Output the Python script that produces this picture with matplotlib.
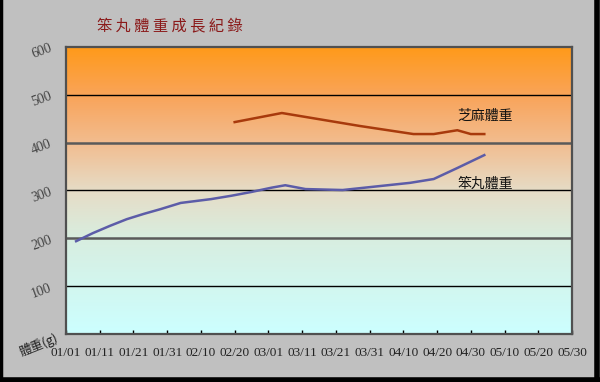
import numpy as np
import pandas as pd
import matplotlib
matplotlib.use("Agg")
import matplotlib.pyplot as plt
import matplotlib.dates as mdates
from matplotlib.colors import LinearSegmentedColormap

# weight records (g)
ben_dates = ["2008-01-04", "2008-01-09", "2008-01-14", "2008-01-19", "2008-01-24",
             "2008-01-29", "2008-02-04", "2008-02-13", "2008-02-19", "2008-02-25",
             "2008-03-02", "2008-03-06", "2008-03-12", "2008-03-23", "2008-03-31",
             "2008-04-12", "2008-04-19", "2008-04-26", "2008-05-04"]
ben_weight = [194, 211, 226, 240, 251, 261, 274, 282, 289, 297,
              306, 311, 303, 301, 307, 316, 324, 347, 374]

zhi_dates = ["2008-02-20", "2008-03-05", "2008-03-28", "2008-04-13", "2008-04-19",
             "2008-04-26", "2008-04-30", "2008-05-04"]
zhi_weight = [443, 462, 435, 418, 418, 426, 418, 418]

tick_dates = pd.date_range("2008-01-01", "2008-05-30", freq="10D")
y_ticks = [100, 200, 300, 400, 500, 600]

cjk = ["Noto Sans CJK TC", "DejaVu Sans"]
serif = "Liberation Serif"

fig = plt.figure(figsize=(6, 3.82), dpi=100, facecolor="#c0c0c0")
ax = fig.add_axes([66/600, 48/382, 506/600, 287/382])

x0 = mdates.date2num(pd.Timestamp("2008-01-01"))
x1 = mdates.date2num(pd.Timestamp("2008-05-30"))

# background gradient, orange on top to pale cyan at the bottom
cmap = LinearSegmentedColormap.from_list("bg", [
    (0.0, "#ccffff"), (0.33, "#d8eee0"), (0.5, "#e6dcc6"),
    (0.67, "#f2bc8e"), (0.83, "#f9a45a"), (1.0, "#ff9a1a")])
grad = np.linspace(0, 1, 256).reshape(-1, 1)
ax.imshow(grad, aspect="auto", cmap=cmap, origin="lower",
          extent=[x0, x1, 0, 600], zorder=0)

for v in [100, 300, 500]:
    ax.axhline(v, color="black", lw=1, zorder=1)
for v in [200, 400]:
    ax.axhline(v, color="#5a5a5a", lw=1.8, zorder=1)

ax.plot(pd.to_datetime(zhi_dates), zhi_weight, color="#a83a0c", lw=1.8, zorder=3)
ax.plot(pd.to_datetime(ben_dates), ben_weight, color="#5c5ca8", lw=1.8, zorder=3)

ax.text(pd.Timestamp("2008-04-26"), 456, "芝麻體重", family=cjk, fontsize=10,
        va="center", ha="left", color="#111111")
ax.text(pd.Timestamp("2008-04-26"), 314, "笨丸體重", family=cjk, fontsize=10,
        va="center", ha="left", color="#111111")

ax.set_xlim(x0, x1)
ax.set_ylim(0, 600)
ax.set_xticks(tick_dates)
ax.set_xticklabels([d.strftime("%m/%d") for d in tick_dates],
                   family=serif, fontsize=9.5, color="#222222")
ax.set_yticks(y_ticks)
ax.set_yticklabels([str(v) for v in y_ticks], family=serif, fontsize=10,
                   rotation=20, color="#444444")
ax.tick_params(axis="x", direction="in", length=3, width=1, pad=9, color="black")
ax.tick_params(axis="y", length=0, pad=9)
for s in ax.spines.values():
    s.set_color("#505050")
    s.set_linewidth(1.6)

fig.text(0.162, 0.932, "笨 丸 體 重 成 長 紀 錄", family=cjk, fontsize=11,
         color="#8b1a1a", va="center", ha="left")
fig.text(0.065, 0.097, "體重(g)", family=cjk, fontsize=9, rotation=22,
         color="#222222", va="center", ha="center")

# black frame on left, right and bottom
fig.add_artist(plt.Line2D([0.002, 0.002], [0, 1], color="black", lw=2.5,
                          transform=fig.transFigure))
fig.add_artist(plt.Line2D([0.9955, 0.9955], [0, 1], color="black", lw=4,
                          transform=fig.transFigure))
fig.add_artist(plt.Line2D([0, 1], [0.006, 0.006], color="black", lw=4,
                          transform=fig.transFigure))

fig.savefig("out.png", dpi=100, facecolor=fig.get_facecolor())
